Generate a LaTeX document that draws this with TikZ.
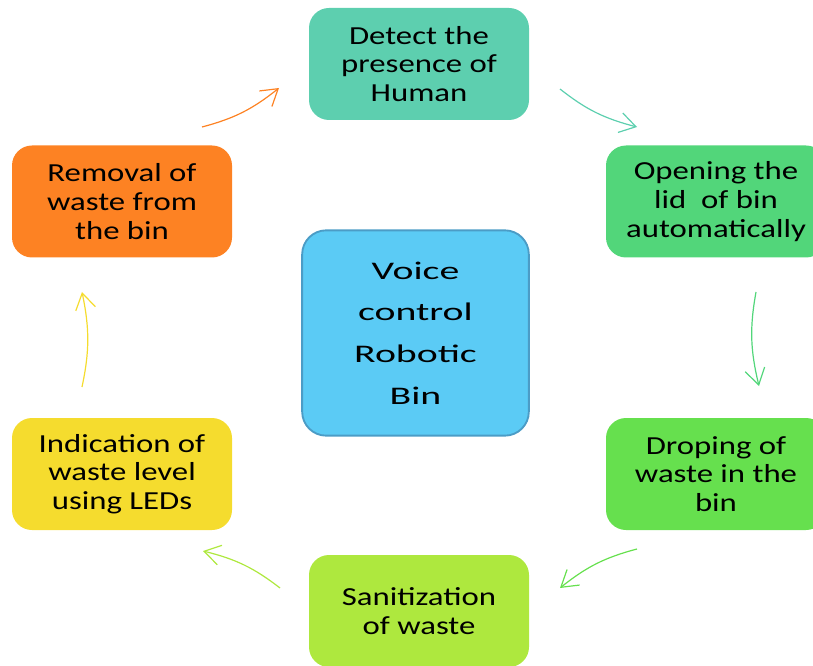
\documentclass[tikz,border=0pt]{standalone}
\usepackage{fontspec}
\setmainfont{Carlito}
\newfontfamily\stepfont[FakeStretch=1.26]{Carlito}
\newfontfamily\hubfont[FakeStretch=1.57]{Carlito}
\usetikzlibrary{arrows.meta,bending}

\definecolor{cTeal}{HTML}{5DCFAF}
\definecolor{cGreenA}{HTML}{52D67A}
\definecolor{cGreenB}{HTML}{66E04E}
\definecolor{cLime}{HTML}{AEE83E}
\definecolor{cYellow}{HTML}{F5DC2E}
\definecolor{cOrange}{HTML}{FD8223}
\definecolor{cSky}{HTML}{5BCBF5}
\definecolor{cSkyEdge}{HTML}{4B9CC6}

\begin{document}
\begin{tikzpicture}[x=0.75pt,y=-0.75pt,
  stepbox/.style={rounded corners=15pt, minimum width=165pt, minimum height=84pt,
    align=center, inner sep=0pt, text=black,
    font=\stepfont\fontsize{19.5}{21.5}\selectfont},
  hubbox/.style={rounded corners=18pt, minimum width=170pt, minimum height=154pt,
    align=center, inner sep=0pt, text=black, fill=cSky, draw=cSkyEdge, line width=1.4pt,
    font=\hubfont\fontsize{19}{31.3}\selectfont},
  flow/.style={line width=0.9pt, -{Straight Barb[length=12pt,width=15pt]}}]

\useasboundingbox (0,0) rectangle (813,666);
\clip (0,0) rectangle (813,666);

% process steps around the hub
\node[stepbox, fill=cTeal]   (detect)  at (419,64)    {Detect the\\presence of\\Human};
\node[stepbox, fill=cGreenA] (lid)     at (716,201.5) {Opening the\\lid\ \ of bin\\automatically};
\node[stepbox, fill=cGreenB] (drop)    at (716,474)   {Droping of\\waste in the\\bin};
\node[stepbox, fill=cLime]   (sanit)   at (419,611)   {Sanitization\\of waste};
\node[stepbox, fill=cYellow] (level)   at (122,474)   {Indication of\\waste level\\using LEDs};
\node[stepbox, fill=cOrange] (removal) at (122,201.5) {Removal of\\waste from\\the bin};

% central hub
\node[hubbox] (hub) at (415.5,333) {Voice\\control\\Robotic\\Bin};

% free ends of the cycle arrows
\coordinate (a1s) at (560,89);  \coordinate (a1e) at (637,127);
\coordinate (a2s) at (756,292); \coordinate (a2e) at (759,386);
\coordinate (a3s) at (637,549); \coordinate (a3e) at (560,588);
\coordinate (a4s) at (280,588); \coordinate (a4e) at (203,551);
\coordinate (a5s) at (82,387);  \coordinate (a5e) at (82,292);
\coordinate (a6s) at (202,127); \coordinate (a6e) at (279,88);

\draw[flow, cTeal]   (a1s) to[bend right=12] (a1e);
\draw[flow, cGreenA] (a2s) to[bend right=12] (a2e);
\draw[flow, cGreenB] (a3s) to[bend right=12] (a3e);
\draw[flow, cLime]   (a4s) to[bend right=12] (a4e);
\draw[flow, cYellow] (a5s) to[bend right=12] (a5e);
\draw[flow, cOrange] (a6s) to[bend right=12] (a6e);
\end{tikzpicture}
\end{document}
